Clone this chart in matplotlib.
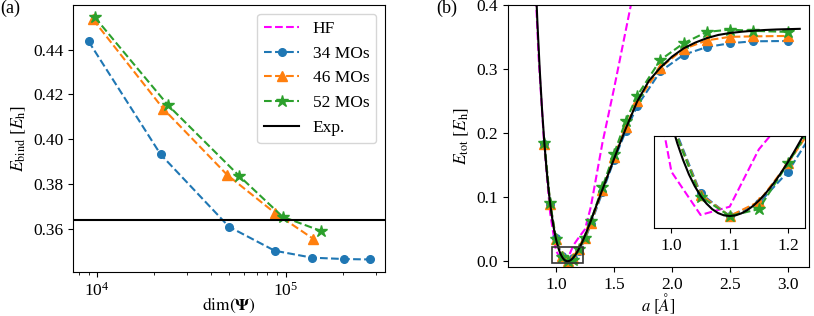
import numpy as np
import matplotlib
matplotlib.use("Agg")
from matplotlib import pyplot as plt
from matplotlib.patches import Rectangle

plt.rcParams['font.family'] = 'serif'
plt.rcParams['font.serif'] = ['Liberation Serif', 'DejaVu Serif']
plt.rcParams['mathtext.fontset'] = 'stix'
plt.rcParams['font.size'] = 12.5

# ---- panel (a): binding energy vs. wavefunction dimension
dim34 = [9000, 21700, 50000, 87400, 138000, 203000, 280000]
e34 = [0.4437, 0.3932, 0.3609, 0.3502, 0.3471, 0.3465, 0.3463]
dim46 = [9500, 22400, 49000, 87200, 140000]
e46 = [0.4535, 0.4136, 0.3840, 0.3672, 0.3555]
dim52 = [9700, 23800, 56800, 96200, 154000]
e52 = [0.4545, 0.4151, 0.3835, 0.3654, 0.3590]
e_bind_exp = 0.3639

# ---- panel (b): potential energy curves
a_mo = [0.9, 0.95, 1.0, 1.05, 1.1, 1.15, 1.2, 1.25, 1.3, 1.4, 1.5, 1.6, 1.7,
        1.9, 2.1, 2.3, 2.5, 2.7, 3.0]
pec34 = [0.183, 0.088, 0.036, 0.0085, 0.0, 0.0048, 0.0166, 0.034, 0.058, 0.108,
         0.158, 0.203, 0.243, 0.297, 0.323, 0.335, 0.341, 0.344, 0.3445]
pec46 = [0.184, 0.089, 0.035, 0.0080, 0.0, 0.0054, 0.0198, 0.036, 0.060, 0.112,
         0.163, 0.210, 0.250, 0.303, 0.332, 0.3455, 0.351, 0.3517, 0.3524]
pec52 = [0.185, 0.091, 0.035, 0.0073, 0.0, 0.0026, 0.0198, 0.037, 0.063, 0.116,
         0.168, 0.219, 0.259, 0.315, 0.341, 0.3587, 0.3623, 0.3603, 0.3587]

a_hf = [0.8, 0.85, 0.9, 0.95, 1.0, 1.05, 1.1, 1.15, 1.2, 1.25, 1.3, 1.4, 1.5, 1.6, 1.7]
pec_hf = [0.52, 0.32, 0.178, 0.075, 0.0166, 0.0004, 0.0035, 0.025, 0.038, 0.05,
          0.085, 0.185, 0.27, 0.36, 0.45]

a_exp = [0.80, 0.82, 0.84, 0.86, 0.88, 0.90, 0.92, 0.94, 0.96, 0.97, 0.98, 0.99,
         1.00, 1.01, 1.02, 1.03, 1.04, 1.05, 1.06, 1.07, 1.08, 1.09, 1.10, 1.11,
         1.12, 1.13, 1.14, 1.15, 1.16, 1.17, 1.18, 1.19, 1.20, 1.21, 1.22, 1.23,
         1.24, 1.25, 1.30, 1.35, 1.40, 1.45, 1.50, 1.55, 1.60, 1.70, 1.80, 1.90,
         2.00, 2.10, 2.20, 2.30, 2.40, 2.50, 2.60, 2.70, 2.80, 2.90, 3.00, 3.10]
pec_exp = [0.561, 0.460, 0.373, 0.2995, 0.2372, 0.1848, 0.1412, 0.1053, 0.0761,
           0.0638, 0.0528, 0.0432, 0.0347, 0.0273, 0.0210, 0.0156, 0.0112,
           0.00755, 0.00470, 0.00257, 0.00111, 0.00027, 0.0, 0.00026, 0.00100,
           0.00219, 0.00379, 0.00577, 0.00809, 0.01072, 0.01365, 0.01683,
           0.02025, 0.02389, 0.02771, 0.03170, 0.03584, 0.0401, 0.063, 0.088,
           0.112, 0.136, 0.160, 0.184, 0.207, 0.250, 0.282, 0.303, 0.320, 0.333,
           0.342, 0.349, 0.354, 0.357, 0.359, 0.3605, 0.3617, 0.3625, 0.363, 0.3635]

c34, c46, c52 = 'tab:blue', 'tab:orange', 'tab:green'
c_hf = 'magenta'
lw = 1.5

fig = plt.figure(figsize=(8.14, 3.16), dpi=100)
ax1 = fig.add_axes([0.0900, 0.1392, 0.3830, 0.8450])
ax2 = fig.add_axes([0.6237, 0.1551, 0.3702, 0.8275])
axin = fig.add_axes([0.8034, 0.2775, 0.1861, 0.2921])

# (a)
ax1.plot([], [], '--', color=c_hf, lw=lw, label='HF')
ax1.plot(dim34, e34, '--o', color=c34, lw=lw, ms=5.5, label='34 MOs')
ax1.plot(dim46, e46, '--^', color=c46, lw=lw, ms=6.5, label='46 MOs')
ax1.plot(dim52, e52, '--*', color=c52, lw=lw, ms=9, label='52 MOs')
ax1.axhline(e_bind_exp, color='k', lw=lw, label='Exp.')
ax1.set_xscale('log')
ax1.set_xlim(7470, 336000)
ax1.set_ylim(0.3407, 0.4599)
ax1.set_yticks([0.36, 0.38, 0.40, 0.42, 0.44])
ax1.set_xlabel(r'$\dim(\mathbf{\Psi})$', va='top')
ax1.xaxis.set_label_coords(0.5, -0.09)
ax1.set_ylabel(r'$E_{\rm bind}$ $[E_{\rm h}]$')
ax1.legend(loc='upper right', fontsize=12.5)

# (b)
for ax in (ax2, axin):
    ax.plot(a_hf, pec_hf, '--', color=c_hf, lw=lw)
    ax.plot(a_mo, pec34, '--o', color=c34, lw=lw, ms=5.5)
    ax.plot(a_mo, pec46, '--^', color=c46, lw=lw, ms=6.5)
    ax.plot(a_mo, pec52, '--*', color=c52, lw=lw, ms=9)
    ax.plot(a_exp, pec_exp, '-', color='k', lw=lw)

ax2.set_xlim(0.584, 3.18)
ax2.set_ylim(-0.009, 0.4)
ax2.set_xticks([1.0, 1.5, 2.0, 2.5, 3.0])
ax2.set_yticks([0.0, 0.1, 0.2, 0.3, 0.4])
ax2.set_xlabel(r'$a\ [\AA]$', va='top', fontsize=12)
ax2.xaxis.set_label_coords(0.5, -0.094)
ax2.set_ylabel(r'$E_{\rm tot}$ $[E_{\rm h}]$')

axin.set_xlim(0.97, 1.23)
axin.set_ylim(-0.0046, 0.030)
axin.set_xticks([1.0, 1.1, 1.2])
axin.set_yticks([])

# box marking the zoomed region
ax2.add_patch(Rectangle((0.97, -0.002), 0.265, 0.024, fill=False,
                        edgecolor='0.2', lw=1.2, zorder=5))

fig.text(0.0, 1.0, '(a)', va='top', ha='left', fontsize=13)
fig.text(436 / 814, 1.0, '(b)', va='top', ha='left', fontsize=13)

fig.savefig('out.png', dpi=100)
